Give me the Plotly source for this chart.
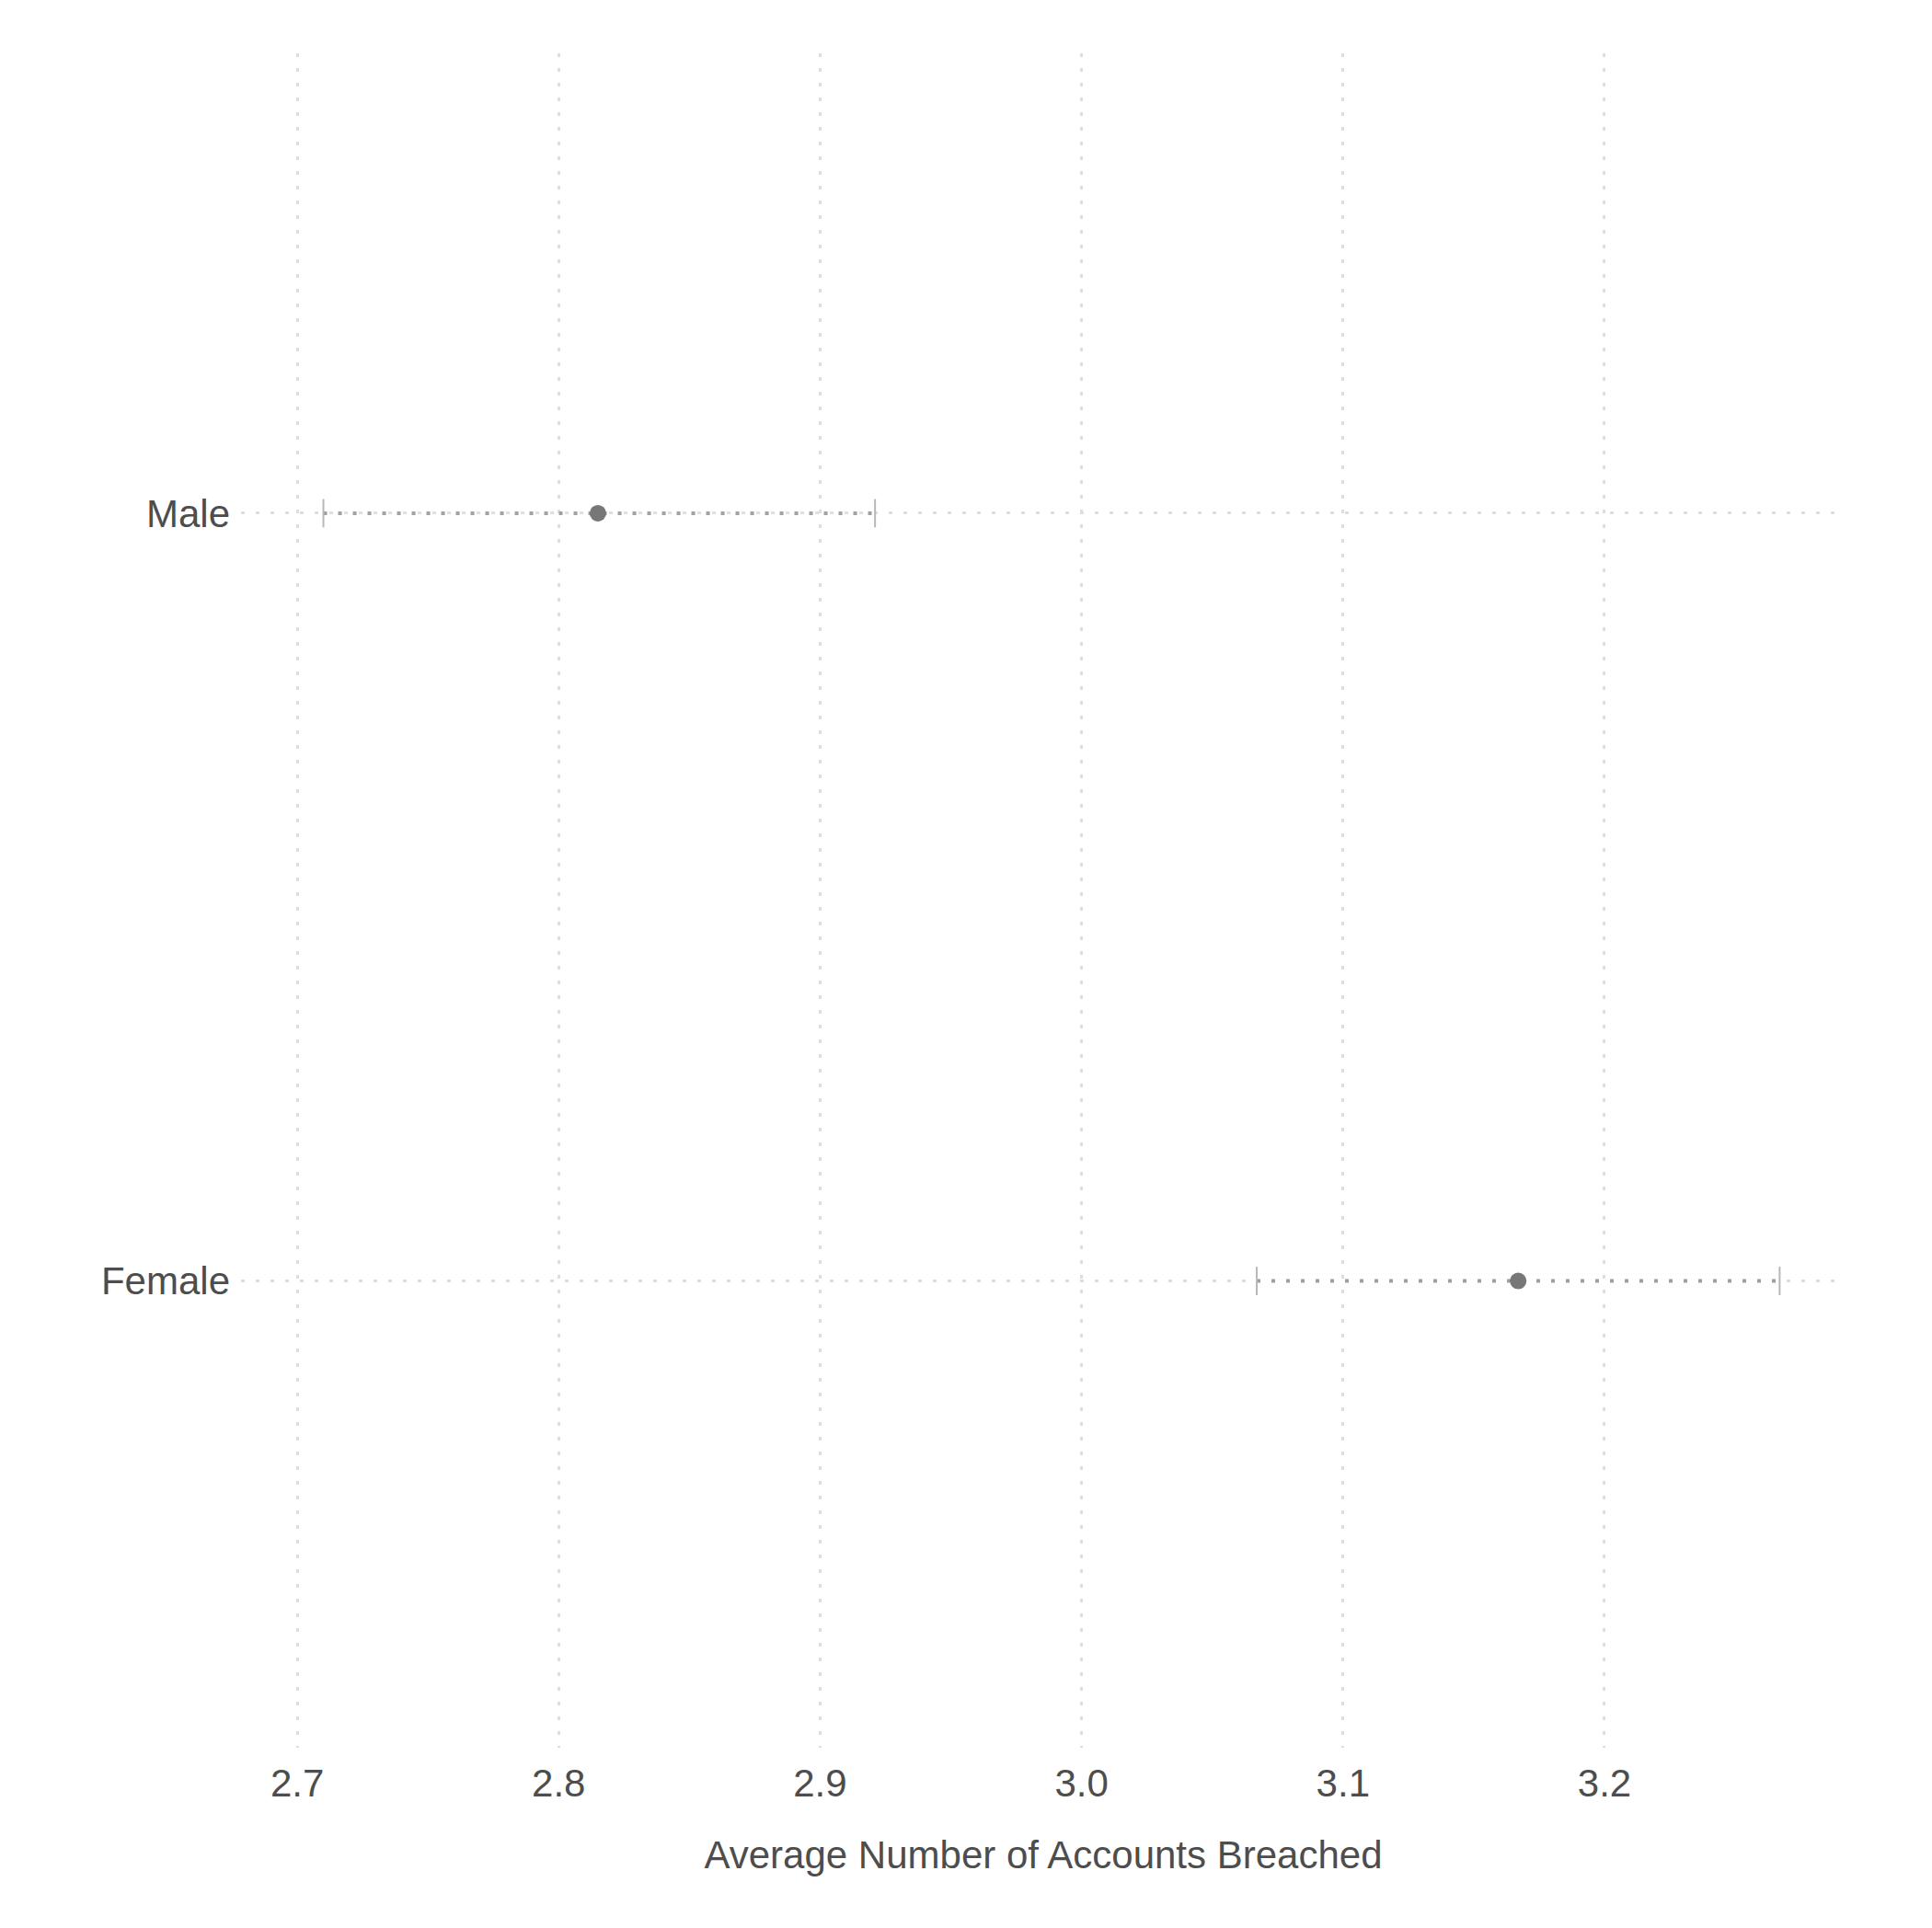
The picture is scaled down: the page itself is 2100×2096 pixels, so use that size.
import plotly.graph_objects as go

# Mean number of breached accounts by gender, with confidence interval
groups = ["Female", "Male"]
means = [3.167, 2.815]
lower = [3.067, 2.710]
upper = [3.267, 2.921]

x_ticks = [2.7, 2.8, 2.9, 3.0, 3.1, 3.2]

grey_txt = "#4d4d4d"
bar_col = "#a0a0a0"

fig = go.Figure()

# dotted interval lines
for g, lo, hi in zip(groups, lower, upper):
    fig.add_trace(go.Scatter(
        x=[lo, hi],
        y=[g, g],
        mode="lines",
        line=dict(color=bar_col, width=4, dash="4px,12px"),
        showlegend=False,
        hoverinfo="skip"
    ))

# whisker caps
fig.add_trace(go.Scatter(
    x=lower + upper,
    y=groups + groups,
    mode="markers",
    marker=dict(symbol="line-ns", size=22, line=dict(color="#b8b8b8", width=2)),
    showlegend=False,
    hoverinfo="skip"
))

# means
fig.add_trace(go.Scatter(
    x=means,
    y=groups,
    mode="markers",
    marker=dict(color="#777777", size=18),
    showlegend=False
))

fig.update_layout(
    width=2100,
    height=2096,
    margin=dict(l=254, r=102, t=50, b=204),
    paper_bgcolor="white",
    plot_bgcolor="white",
    font=dict(family="Liberation Sans, Arial, sans-serif", size=42, color=grey_txt),
)

fig.update_xaxes(
    range=[2.6785, 3.2922],
    tickvals=x_ticks,
    tickformat=".1f",
    ticks="",
    showline=False,
    zeroline=False,
    automargin=False,
    showgrid=True,
    gridcolor="#dedede",
    gridwidth=3,
    griddash="4px,12px",
    ticklabelstandoff=10,
    title=dict(text="Average Number of Accounts Breached", standoff=40,
               font=dict(size=42, color=grey_txt)),
)

fig.update_yaxes(
    type="category",
    categoryorder="array",
    categoryarray=groups,
    range=[-0.608, 1.599],
    ticks="",
    showline=False,
    zeroline=False,
    automargin=False,
    showgrid=True,
    gridcolor="#dedede",
    gridwidth=3,
    griddash="4px,12px",
    ticklabelstandoff=11,
)

fig.write_html("out.html")
